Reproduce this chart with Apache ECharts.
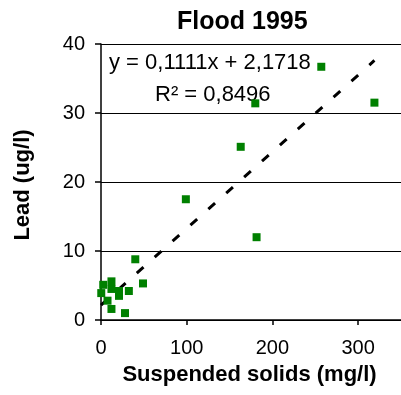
<!DOCTYPE html>
<html>
<head>
<meta charset="utf-8">
<script src="https://cdn.jsdelivr.net/npm/echarts@6/dist/echarts.min.js"></script>
<style>
html,body{margin:0;padding:0;background:#fff;}
#chart{width:401px;height:395px;}
</style>
</head>
<body>
<div id="chart"></div>
<script>
// Suspended solids (mg/l)
const solids = [0.3, 2.6, 7.6, 12.2, 12.2, 12.2, 21, 21, 28, 32.5, 40, 49, 99, 163, 180, 181.5, 257, 319];
// Lead (ug/l)
const lead   = [3.9, 5.1, 2.8, 5.6, 4.5, 1.6, 4.2, 3.5, 1.0, 4.2, 8.8, 5.3, 17.5, 25.1, 31.4, 12.0, 36.7, 31.5];
// Linear trend line endpoints (y = 0,1111x + 2,1718)
const trendX = [0, 319];
const trendY = [2.17, 37.61];
const xTicks = [0, 100, 200, 300];
const yTicks = [0, 10, 20, 30, 40];
const titleText = 'Flood 1995';
const eqText = 'y = 0,1111x + 2,1718';
const r2Text = 'R² = 0,8496';
const xName = 'Suspended solids (mg/l)';
const yName = 'Lead (ug/l)';

const FONT = 'Liberation Sans, Arial, sans-serif';
const points = solids.map((x, i) => [x, lead[i]]);
const trend = trendX.map((x, i) => [x, trendY[i]]);

const chart = echarts.init(document.getElementById('chart'), null, {renderer: 'canvas'});
chart.setOption({
  animation: false,
  backgroundColor: '#ffffff',
  title: {
    text: titleText, left: 172, top: 5,
    textStyle: {fontFamily: FONT, fontSize: 25, fontWeight: 'bold', color: '#000'}
  },
  grid: {left: 101, right: -6, top: 44, bottom: 75},
  xAxis: {
    type: 'value', min: 0, max: 350, interval: 100,
    axisLine: {show: true, lineStyle: {color: '#000', width: 1.5}},
    axisTick: {show: true, length: 5, lineStyle: {color: '#000', width: 1.5}},
    axisLabel: {
      showMaxLabel: false, margin: 18,
      fontFamily: FONT, fontSize: 20, color: '#000',
      formatter: v => (xTicks.indexOf(v) >= 0 ? String(v) : '')
    },
    splitLine: {show: false}
  },
  yAxis: {
    type: 'value', min: 0, max: 40, interval: 10,
    axisLine: {show: true, lineStyle: {color: '#000', width: 1.5}},
    axisTick: {show: true, length: 6, lineStyle: {color: '#000', width: 1.5}},
    axisLabel: {
      margin: 16, fontFamily: FONT, fontSize: 20, color: '#000',
      formatter: v => (yTicks.indexOf(v) >= 0 ? String(v) : '')
    },
    splitLine: {show: true, lineStyle: {color: '#000', width: 1}}
  },
  graphic: [
    {type: 'text', left: 109, top: 52, style: {text: eqText, font: '22px ' + FONT, fill: '#000'}},
    {type: 'text', left: 155, top: 84, style: {text: r2Text, font: '22px ' + FONT, fill: '#000'}},
    {type: 'text', x: 249.5, y: 364, style: {text: xName, font: 'bold 22px ' + FONT, fill: '#000', align: 'center', verticalAlign: 'top'}},
    {type: 'text', x: 23, y: 185, rotation: Math.PI / 2, style: {text: yName, font: 'bold 22px ' + FONT, fill: '#000', align: 'center', verticalAlign: 'middle'}}
  ],
  series: [
    {
      type: 'line', data: trend, symbol: 'none', silent: true, z: 3,
      lineStyle: {color: '#000', width: 3, type: [9, 15]}
    },
    {
      type: 'scatter', data: points, symbol: 'rect', symbolSize: 8, z: 4,
      itemStyle: {color: '#008000', opacity: 1}
    }
  ]
});
</script>
</body>
</html>
